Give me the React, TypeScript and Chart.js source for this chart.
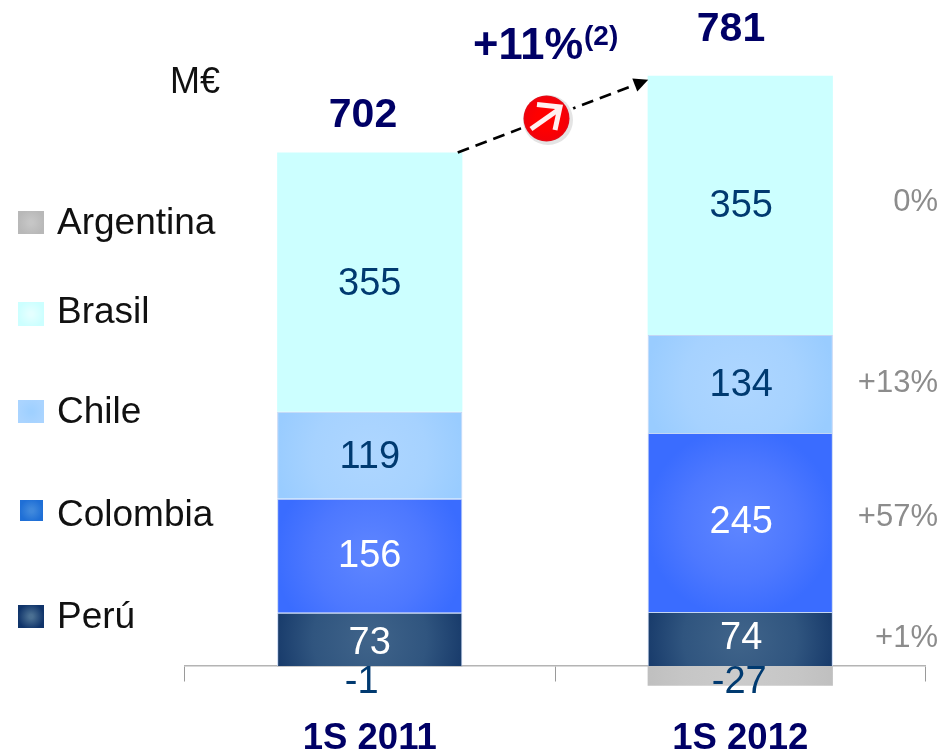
import React, { useEffect, useRef } from "react";
import { Chart, registerables } from "chart.js";

Chart.register(...registerables);

const categories = ["1S 2011", "1S 2012"];
const peru = [73, 74];
const colombia = [156, 245];
const chile = [119, 134];
const brasil = [355, 355];
const argentina = [-1, -27];
const totals = ["702", "781"];
const legendNames = ["Argentina", "Brasil", "Chile", "Colombia", "Perú"];
const changes = ["0%", "+13%", "+57%", "+1%"];
const growthLabel = "+11%";
const growthNote = "(2)";
const unitLabel = "M€";

const FONT = '"Liberation Sans", Arial, sans-serif';
const NAVY = "#000066";
const TEAL = "#003a70";

// series appearance: [centre, mid, edge]
const shade: Record<string, [string, string, string]> = {
  Argentina: ["#cbcbcb", "#c6c6c6", "#bfbfbf"],
  Brasil: ["#ccffff", "#ccffff", "#ccffff"],
  Chile: ["#aed6ff", "#a6d2ff", "#99ccff"],
  Colombia: ["#5f86ff", "#4d78ff", "#3a6cff"],
  "Perú": ["#40648a", "#30557f", "#183b6b"],
};
const legendShade: Record<string, [string, string]> = {
  Argentina: ["#c6c6c6", "#b8b8b8"],
  Brasil: ["#e4ffff", "#ccffff"],
  Chile: ["#9fd0ff", "#aad4ff"],
  Colombia: ["#3f88dc", "#1f6fd6"],
  "Perú": ["#4a6f92", "#10346a"],
};

// annotation placement on the page
const legendLayout = [
  { x: 18, y: 211, w: 26, h: 23, ty: 224 },
  { x: 18, y: 302, w: 26, h: 24, ty: 313 },
  { x: 18, y: 400, w: 26, h: 23, ty: 413 },
  { x: 20, y: 500, w: 23, h: 21, ty: 516 },
  { x: 18, y: 605, w: 26, h: 23, ty: 618 },
];
const changeY = [202, 383, 517, 638];
const totalLayout = [
  { x: 363, y: 116 },
  { x: 731, y: 30 },
];
// label fine placement by series, per bar: [dx, dy]
const labelNudge: Record<string, [number, number][]> = {
  "Perú": [[0, 5], [1, 1]],
  Colombia: [[0, 2], [1, 1]],
  Chile: [[0, 3], [1, 2]],
  Brasil: [[0, 3], [1, 2]],
  Argentina: [[-8, 2], [-1, 2]],
};

function segmentGradient(ctx: any, name: string) {
  const chart = ctx.chart;
  const [c, m, e] = shade[name];
  const xs = chart.scales?.x;
  const ys = chart.scales?.y;
  if (!chart.chartArea || !xs || !ys || ctx.dataIndex === undefined) return e;
  const value = chart.data.datasets[ctx.datasetIndex].data[ctx.dataIndex] as number;
  let base = 0;
  for (let k = 0; k < ctx.datasetIndex; k++) {
    const v = chart.data.datasets[k].data[ctx.dataIndex] as number;
    if (v > 0 === value > 0) base += v;
  }
  const y0 = ys.getPixelForValue(base);
  const y1 = ys.getPixelForValue(base + value);
  const cx = xs.getPixelForValue(ctx.dataIndex);
  const cy = (y0 + y1) / 2;
  const r = 95;
  const g = chart.ctx.createRadialGradient(cx, cy, 0, cx, cy, r);
  g.addColorStop(0, c);
  g.addColorStop(0.6, m);
  g.addColorStop(1, e);
  return g;
}

function text(c: CanvasRenderingContext2D, s: string, x: number, y: number, font: string, color: string, align: CanvasTextAlign = "center") {
  c.font = font;
  c.fillStyle = color;
  c.textAlign = align;
  c.textBaseline = "middle";
  c.fillText(s, x, y);
}

const overlay = {
  id: "overlay",
  afterDraw(chart: any) {
    const c: CanvasRenderingContext2D = chart.ctx;
    const xs = chart.scales.x;
    const ys = chart.scales.y;
    c.save();

    // value labels
    chart.data.datasets.forEach((ds: any, di: number) => {
      const meta = chart.getDatasetMeta(di);
      meta.data.forEach((bar: any, i: number) => {
        const v = ds.data[i] as number;
        const [dx, dy] = labelNudge[ds.label][i];
        const y = v < 0 ? ys.getPixelForValue(0) + 15 : (bar.y + bar.base) / 2 - 1;
        const color = ds.label === "Colombia" || ds.label === "Perú" ? "#ffffff" : TEAL;
        text(c, String(v), bar.x + dx, y + dy, `38px ${FONT}`, color);
      });
    });

    // totals
    totals.forEach((t, i) => {
      text(c, t, totalLayout[i].x, totalLayout[i].y, `bold 41px ${FONT}`, NAVY);
    });

    // unit
    text(c, unitLabel, 170, 83, `36px ${FONT}`, "#111111", "left");

    // growth text
    text(c, growthLabel, 473, 47, `bold 43.5px ${FONT}`, NAVY, "left");
    text(c, growthNote, 584, 37, `bold 28px ${FONT}`, NAVY, "left");

    // dashed arrow between bar tops
    const sx = xs.getPixelForValue(0) + 88;
    const sy = ys.getPixelForValue(703);
    const ex = xs.getPixelForValue(1) - 92;
    const ey = ys.getPixelForValue(808) + 4;
    const ang = Math.atan2(ey - sy, ex - sx);
    c.strokeStyle = "#000000";
    c.lineWidth = 2.6;
    c.setLineDash([12, 7]);
    c.beginPath();
    c.moveTo(sx, sy);
    c.lineTo(ex - 8 * Math.cos(ang), ey - 8 * Math.sin(ang));
    c.stroke();
    c.setLineDash([]);
    c.fillStyle = "#000000";
    c.beginPath();
    c.moveTo(ex, ey);
    c.lineTo(ex - 16 * Math.cos(ang - 0.45), ey - 16 * Math.sin(ang - 0.45));
    c.lineTo(ex - 16 * Math.cos(ang + 0.45), ey - 16 * Math.sin(ang + 0.45));
    c.closePath();
    c.fill();

    // round red badge
    const bx = 546.5;
    const by = 118.5;
    c.fillStyle = "#ffffff";
    c.beginPath();
    c.arc(bx + 1, by + 1, 28, 0, Math.PI * 2);
    c.fill();
    c.fillStyle = "#e4e4e4";
    c.beginPath();
    c.arc(bx + 1.5, by + 1.5, 25, 0, Math.PI * 2);
    c.fill();
    const rg = c.createRadialGradient(bx, by, 10, bx, by, 23);
    rg.addColorStop(0, "#ff0000");
    rg.addColorStop(0.85, "#f40008");
    rg.addColorStop(1, "#e0101c");
    c.fillStyle = rg;
    c.beginPath();
    c.arc(bx, by, 23, 0, Math.PI * 2);
    c.fill();
    c.strokeStyle = "#fff0f0";
    c.lineWidth = 5;
    c.lineJoin = "miter";
    c.beginPath();
    c.moveTo(531, 129);
    c.lineTo(558, 110);
    c.stroke();
    c.beginPath();
    c.moveTo(537, 104.5);
    c.lineTo(560, 107);
    c.lineTo(555, 130);
    c.stroke();

    // legend
    legendNames.forEach((name, i) => {
      const l = legendLayout[i];
      const [ce, ed] = legendShade[name];
      const g = c.createRadialGradient(l.x + l.w / 2, l.y + l.h / 2, 2, l.x + l.w / 2, l.y + l.h / 2, l.w / 2);
      g.addColorStop(0, ce);
      g.addColorStop(1, ed);
      c.fillStyle = g;
      c.fillRect(l.x, l.y, l.w, l.h);
      text(c, name, 57, l.ty, `37px ${FONT}`, "#111111", "left");
    });

    // change column
    changes.forEach((t, i) => {
      text(c, t, 938, changeY[i], `31px ${FONT}`, "#8c8c8c", "right");
    });

    c.restore();
  },
};

export default function App() {
  const ref = useRef<HTMLCanvasElement>(null);
  useEffect(() => {
    if (!ref.current) return;
    const mk = (label: string, data: number[]) => ({
      label,
      data,
      stack: "s",
      backgroundColor: (ctx: any) => segmentGradient(ctx, label),
      borderColor: label === "Brasil" || label === "Argentina" ? "transparent" : "#c4d6f4",
      borderWidth: label === "Brasil" || label === "Argentina" ? 0 : 1,
      barPercentage: 0.5,
      categoryPercentage: 1,
    });
    const chart = new Chart(ref.current, {
      type: "bar",
      data: {
        labels: categories,
        datasets: [
          mk("Perú", peru),
          mk("Colombia", colombia),
          mk("Chile", chile),
          mk("Brasil", brasil),
          mk("Argentina", argentina),
        ],
      },
      plugins: [overlay],
      options: {
        responsive: false,
        animation: false,
        layout: { padding: { left: 184.5, right: 25.5, top: 40, bottom: 53.4 } },
        plugins: { legend: { display: false }, tooltip: { enabled: false }, title: { display: false } },
        scales: {
          x: {
            position: { y: 0 },
            z: 1,
            border: { color: "#b4b4b4", width: 1.5 },
            grid: { drawOnChartArea: false, drawTicks: true, tickLength: 15, tickColor: "#9a9a9a", tickWidth: 1 },
            ticks: { padding: 36, color: NAVY, font: { family: FONT, size: 36.5, weight: "bold" }, maxRotation: 0 },
          },
          y: { display: false, stacked: true, min: -46, max: 857 },
        },
      } as any,
    });
    return () => chart.destroy();
  }, []);
  return <canvas ref={ref} width={951} height={753} style={{ position: "absolute", left: 0, top: 0, display: "block" }} />;
}
